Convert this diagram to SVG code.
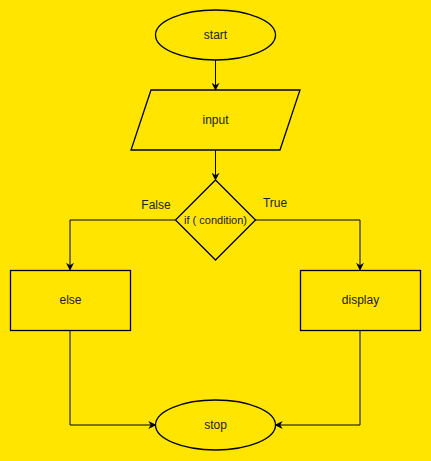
<svg xmlns="http://www.w3.org/2000/svg" width="431" height="461" viewBox="0 0 431 461">
<style>
.s{fill:none;stroke:#000;stroke-width:1.3}
.c{fill:none;stroke:#000;stroke-width:1}
text{font-family:"Liberation Sans",Arial,sans-serif;font-size:12px;fill:#222;text-anchor:middle;dominant-baseline:central}
</style>
<defs>
<marker id="a" viewBox="0 0 10 10" refX="9" refY="5" markerWidth="8" markerHeight="8" markerUnits="userSpaceOnUse" orient="auto">
<path d="M0,0 L10,5 L0,10 L3,5 Z" fill="#000"/>
</marker>
</defs>
<rect width="431" height="461" fill="#FFE500"/>
<g id="connectors">
<path class="c" d="M215.5,60 V90" marker-end="url(#a)"/>
<path class="c" d="M215.5,150 V180" marker-end="url(#a)"/>
<path class="c" d="M175,220 H70 V270" marker-end="url(#a)"/>
<path class="c" d="M255,220 H360 V270" marker-end="url(#a)"/>
<path class="c" d="M70,330 V425 H155.5" marker-end="url(#a)"/>
<path class="c" d="M360,330 V425 H275.5" marker-end="url(#a)"/>
<text x="156" y="205">False</text>
<text x="275" y="203">True</text>
</g>
<g id="start"><ellipse class="s" cx="215.5" cy="35" rx="60" ry="25"/><text x="215.5" y="35">start</text></g>
<g id="input"><path class="s" d="M151,90 H300 L280,150 H131 Z"/><text x="215.5" y="120">input</text></g>
<g id="cond"><path class="s" d="M215.5,180 L255.5,220 L215.5,260 L175.5,220 Z"/><text x="215.5" y="220" style="font-size:11px">if ( condition)</text></g>
<g id="else"><rect class="s" x="10.5" y="270.5" width="120" height="60"/><text x="70.5" y="300">else</text></g>
<g id="display"><rect class="s" x="300.5" y="270.5" width="120" height="60"/><text x="360.5" y="300">display</text></g>
<g id="stop"><ellipse class="s" cx="215.5" cy="425" rx="60" ry="25"/><text x="215.5" y="425">stop</text></g>
</svg>
